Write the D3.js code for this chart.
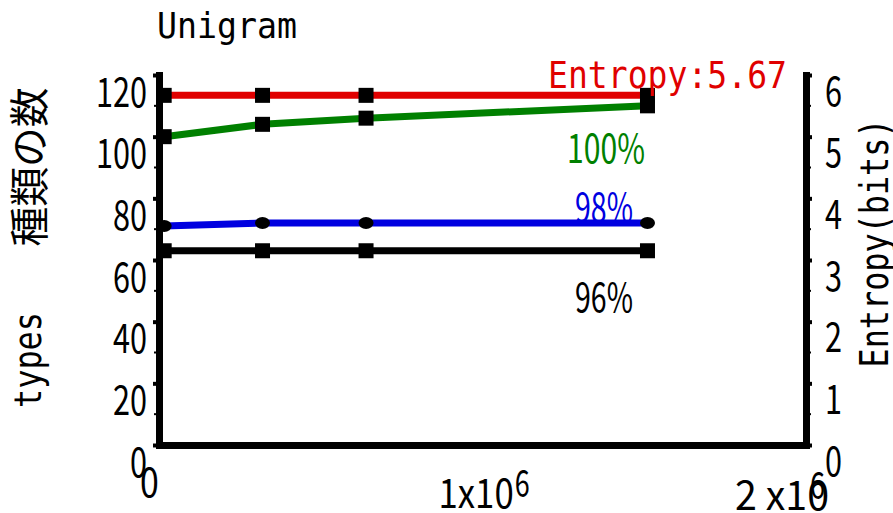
<!DOCTYPE html>
<html>
<head>
<meta charset="utf-8">
<script src="https://cdn.jsdelivr.net/npm/d3@7/dist/d3.min.js"></script>
<style>
  html, body { margin: 0; padding: 0; background: #fff; }
  svg { display: block; }
  text { font-family: "Noto Sans CJK JP", "Noto Sans", sans-serif; }
  text.mono { font-family: "DejaVu Sans Mono", "Liberation Mono", monospace; }
</style>
</head>
<body>
<svg id="chart" width="893" height="513"></svg>
<script>
// Corpus size (tokens) at each measurement
const corpusSize = [16000, 320000, 640000, 1510000];
// Entropy of the unigram distribution (bits), right axis
const entropy = [5.67, 5.67, 5.67, 5.67];
// Number of types needed to cover 100% / 98% / 96% of tokens, left axis
const types100 = [100, 104, 106, 110];
const types98 = [71, 72, 72, 72];
const types96 = [63, 63, 63, 63];

const leftTicks = [0, 20, 40, 60, 80, 100, 120];
const leftMinor = [10, 30, 50, 70, 90, 110];
const rightTicks = [0, 1, 2, 3, 4, 5, 6];
const rightMinor = [0.5, 1.5, 2.5, 3.5, 4.5, 5.5];
const xTicks = [0, 1000000, 2000000];
const xTickBase = ["0", "1x10", "2 x10"];
const xTickSup = ["", "6", "6"];

const RED = "#e00000", GREEN = "#008000", BLUE = "#0000e0", BLACK = "#000";

const svg = d3.select("#chart");

const x = d3.scaleLinear().domain([0, 2000000]).range([159, 806]);
const yL = d3.scaleLinear().domain([0, 120]).range([445, 75]);
const yR = d3.scaleLinear().domain([0, 6]).range([445, 75]);

const DIGIT_W = 17;

// ---- axes ----
const gL = svg.append("g").attr("transform", `translate(${x(0)},0)`)
  .call(d3.axisLeft(yL).tickValues(leftTicks).tickSize(6).tickSizeOuter(0).tickFormat(d3.format("d")));
const gR = svg.append("g").attr("transform", `translate(${x(2000000)},0)`)
  .call(d3.axisRight(yR).tickValues(rightTicks).tickSize(6).tickSizeOuter(0).tickFormat(d3.format("d")));
const gB = svg.append("g").attr("transform", `translate(0,${yL(0)})`)
  .call(d3.axisBottom(x).tickValues(xTicks).tickSize(4).tickSizeOuter(0).tickFormat(""));

[gL, gR, gB].forEach(g => {
  g.select(".domain").attr("stroke", BLACK).attr("stroke-width", 7).attr("stroke-linecap", "square");
  g.selectAll(".tick line").attr("stroke", BLACK).attr("stroke-width", 4);
});

gL.selectAll(".tick text")
  .attr("font-size", 41).attr("fill", BLACK)
  .attr("x", -12).attr("dy", 31)
  .attr("lengthAdjust", "spacingAndGlyphs")
  .attr("textLength", d => String(d).length * DIGIT_W);
gR.selectAll(".tick text")
  .attr("font-size", 41).attr("fill", BLACK)
  .attr("x", 19).attr("dy", 30)
  .attr("lengthAdjust", "spacingAndGlyphs")
  .attr("textLength", d => String(d).length * DIGIT_W);

// minor ticks
svg.append("g").selectAll("line").data(leftMinor).join("line")
  .attr("x1", x(0) - 5).attr("x2", x(0))
  .attr("y1", d => yL(d)).attr("y2", d => yL(d))
  .attr("stroke", BLACK).attr("stroke-width", 2);
svg.append("g").selectAll("line").data(rightMinor).join("line")
  .attr("x1", x(2000000)).attr("x2", x(2000000) + 5)
  .attr("y1", d => yR(d)).attr("y2", d => yR(d))
  .attr("stroke", BLACK).attr("stroke-width", 2);

// x tick labels (base + superscript exponent)
const xLabelDx = [-19, -44, -71];
const xLabelDy = [52, 63, 65];
const gX = svg.append("g");
xTicks.forEach((t, i) => {
  const bx = x(t) + xLabelDx[i];
  const by = yL(0) + xLabelDy[i];
  const baseW = xTickBase[i].length * 18.8;
  gX.append("text")
    .attr("x", bx).attr("y", by)
    .attr("font-size", 40).attr("fill", BLACK)
    .attr("lengthAdjust", "spacingAndGlyphs")
    .attr("textLength", baseW)
    .text(xTickBase[i]);
  if (xTickSup[i]) {
    gX.append("text")
      .attr("x", bx + baseW + (i === 2 ? -19 : 1)).attr("y", by - 11)
      .attr("font-size", 38).attr("fill", BLACK)
      .attr("lengthAdjust", "spacingAndGlyphs")
      .attr("textLength", 15)
      .text(xTickSup[i]);
  }
});

// ---- series ----
const lineL = d3.line().x((d, i) => x(corpusSize[i])).y(d => yL(d));
const lineR = d3.line().x((d, i) => x(corpusSize[i])).y(d => yR(d));

const series = [
  { values: entropy, line: lineR, scale: yR, color: RED, marker: "square" },
  { values: types100, line: lineL, scale: yL, color: GREEN, marker: "square" },
  { values: types98, line: lineL, scale: yL, color: BLUE, marker: "circle" },
  { values: types96, line: lineL, scale: yL, color: BLACK, marker: "square" }
];

const gS = svg.append("g");
series.forEach(s => {
  gS.append("path").datum(s.values)
    .attr("d", s.line)
    .attr("fill", "none")
    .attr("stroke", s.color)
    .attr("stroke-width", 7);
});
series.forEach(s => {
  const g = gS.append("g");
  if (s.marker === "square") {
    g.selectAll("rect").data(s.values).join("rect")
      .attr("x", (d, i) => x(corpusSize[i]) - 7.5)
      .attr("y", d => s.scale(d) - 7.5)
      .attr("width", 15).attr("height", 15)
      .attr("fill", BLACK);
  } else {
    g.selectAll("ellipse").data(s.values).join("ellipse")
      .attr("cx", (d, i) => x(corpusSize[i]))
      .attr("cy", d => s.scale(d))
      .attr("rx", 7.5).attr("ry", 6)
      .attr("fill", BLACK);
  }
});

// ---- series labels ----
const labels = [
  { text: "Entropy:" + entropy[entropy.length - 1].toFixed(2), color: RED, x: 548, y: 88, w: 239, mono: true, size: 38 },
  { text: "100%", color: GREEN, x: 567, y: 163, w: 78, mono: false, size: 40 },
  { text: "98%", color: BLUE, x: 575, y: 222, w: 58, mono: false, size: 40 },
  { text: "96%", color: BLACK, x: 575, y: 312, w: 58, mono: false, size: 40 }
];
svg.append("g").selectAll("text").data(labels).join("text")
  .attr("class", d => d.mono ? "mono" : null)
  .attr("x", d => d.x).attr("y", d => d.y)
  .attr("font-size", d => d.size)
  .attr("fill", d => d.color)
  .attr("lengthAdjust", "spacingAndGlyphs")
  .attr("textLength", d => d.w)
  .text(d => d.text);

// ---- title and axis titles ----
svg.append("text")
  .attr("class", "mono")
  .attr("x", 157).attr("y", 38)
  .attr("font-size", 36).attr("fill", BLACK)
  .attr("lengthAdjust", "spacingAndGlyphs").attr("textLength", 140)
  .text("Unigram");

svg.append("text")
  .attr("transform", "translate(44,167) rotate(-90)")
  .attr("text-anchor", "middle")
  .attr("font-size", 40).attr("fill", BLACK)
  .attr("lengthAdjust", "spacingAndGlyphs").attr("textLength", 159)
  .text("種類の数");

svg.append("text")
  .attr("class", "mono")
  .attr("transform", "translate(41,360) rotate(-90)")
  .attr("text-anchor", "middle")
  .attr("font-size", 38).attr("fill", BLACK)
  .attr("lengthAdjust", "spacingAndGlyphs").attr("textLength", 96)
  .text("types");

svg.append("text")
  .attr("class", "mono")
  .attr("transform", "translate(888,243) rotate(-90)")
  .attr("text-anchor", "middle")
  .attr("font-size", 39).attr("fill", BLACK)
  .attr("lengthAdjust", "spacingAndGlyphs").attr("textLength", 249)
  .text("Entropy(bits)");
</script>
</body>
</html>
